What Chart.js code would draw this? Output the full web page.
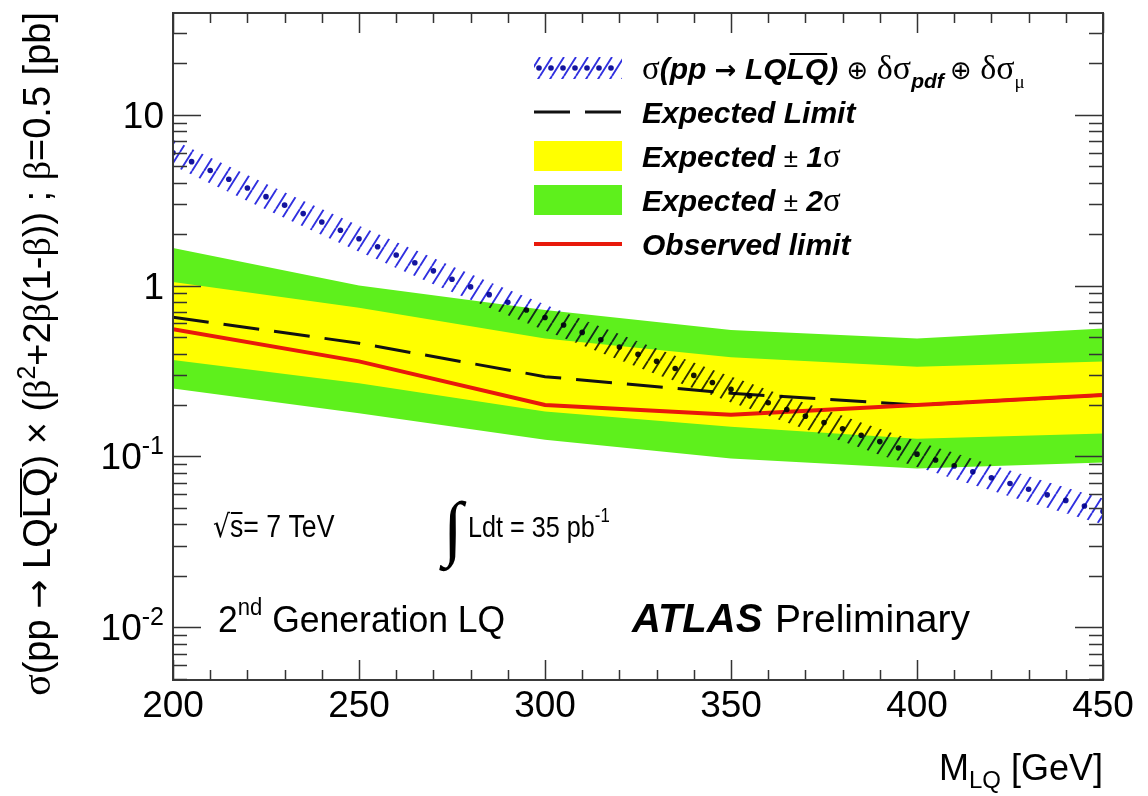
<!DOCTYPE html>
<html>
<head>
<meta charset="utf-8">
<script src="https://cdn.jsdelivr.net/npm/chart.js@4.4.1/dist/chart.umd.min.js"></script>
<style>
  html, body { margin: 0; padding: 0; background: #ffffff; }
  canvas { display: block; }
</style>
</head>
<body>
<canvas id="chart" width="1148" height="796"></canvas>
<script>
// Limit points (LQ mass in GeV, cross section x BR in pb)
const massPoints     = [200, 250, 300, 350, 400, 450];
const observedLimit  = [0.555, 0.36, 0.20, 0.175, 0.20, 0.229];
const expectedLimit  = [0.653, 0.46, 0.293, 0.234, 0.20, 0.229];
const expected1Up    = [1.05, 0.743, 0.49, 0.38, 0.335, 0.359];
const expected1Down  = [0.367, 0.268, 0.183, 0.149, 0.127, 0.136];
const expected2Up    = [1.66, 1.0, 0.72, 0.55, 0.49, 0.56];
const expected2Down  = [0.25, 0.179, 0.125, 0.097, 0.085, 0.092];

// Theory prediction with its pdf + scale uncertainty band
const theoryMass = [200, 205, 210, 215, 220, 225, 230, 235, 240, 245, 250, 255, 260, 265, 270, 275, 280,
  285, 290, 295, 300, 305, 310, 315, 320, 325, 330, 335, 340, 345, 350, 355, 360, 365, 370, 375, 380,
  385, 390, 395, 400, 405, 410, 415, 420, 425, 430, 435, 440, 445, 450];
const theoryXsec = [6.00, 5.32, 4.72, 4.20, 3.73, 3.32, 2.96, 2.64, 2.36, 2.11, 1.88, 1.69, 1.51, 1.36, 1.22,
  1.09, 0.983, 0.885, 0.798, 0.720, 0.650, 0.588, 0.532, 0.482, 0.437, 0.396, 0.360, 0.327, 0.298, 0.271,
  0.247, 0.226, 0.206, 0.188, 0.172, 0.158, 0.145, 0.133, 0.122, 0.112, 0.103, 0.0953, 0.0879, 0.0812,
  0.0750, 0.0693, 0.0642, 0.0595, 0.0552, 0.0512, 0.0476];
const theoryHigh = [7.14, 6.33, 5.62, 5.00, 4.44, 3.95, 3.52, 3.14, 2.81, 2.51, 2.24, 2.01, 1.80, 1.62, 1.45,
  1.30, 1.17, 1.05, 0.950, 0.857, 0.774, 0.700, 0.633, 0.574, 0.520, 0.471, 0.428, 0.389, 0.355, 0.322,
  0.294, 0.269, 0.245, 0.224, 0.205, 0.188, 0.173, 0.158, 0.145, 0.133, 0.123, 0.113, 0.105, 0.0966,
  0.0893, 0.0825, 0.0764, 0.0708, 0.0657, 0.0609, 0.0566];
const theoryLow = [5.04, 4.47, 3.96, 3.53, 3.13, 2.79, 2.49, 2.22, 1.98, 1.77, 1.58, 1.42, 1.27, 1.14, 1.02,
  0.916, 0.826, 0.743, 0.670, 0.605, 0.546, 0.494, 0.447, 0.405, 0.367, 0.333, 0.302, 0.275, 0.250, 0.228,
  0.207, 0.190, 0.173, 0.158, 0.144, 0.133, 0.122, 0.112, 0.102, 0.0941, 0.0865, 0.0801, 0.0738, 0.0682,
  0.0630, 0.0582, 0.0539, 0.0500, 0.0464, 0.0430, 0.0400];

// Axis ticks
const xMajorTicks = [200, 250, 300, 350, 400, 450];
const xTickLabels = ['200', '250', '300', '350', '400', '450'];
const yMajorTicks = [10, 1, 0.1, 0.01];
const yTickLabels = [['10', ''], ['1', ''], ['10', '-1'], ['10', '-2']];

const SANS = '"Liberation Sans", Arial, Helvetica, sans-serif';
const SERIF = '"Liberation Serif", "DejaVu Serif", serif';
const SYM = '"DejaVu Sans", sans-serif';
const f = (size, style, fam) => `${style || ''} ${size}px ${fam || SANS}`;

const GREEN = '#5ef01c';
const YELLOW = '#ffff00';
const RED = '#e8190b';
const HATCH_BLUE = '#3030e0';
const DOT_BLUE = '#14149e';

const canvas = document.getElementById('chart');
const ctx0 = canvas.getContext('2d');

function makeHatch(color) {
  const w = 12, h = 19;
  const c = document.createElement('canvas');
  c.width = w; c.height = h;
  const g = c.getContext('2d');
  g.strokeStyle = color;
  g.lineWidth = 1.9;
  g.beginPath();
  for (const off of [-w, 0, w]) { g.moveTo(off, h); g.lineTo(off + w, 0); }
  g.stroke();
  return ctx0.createPattern(c, 'repeat');
}
const hatch = makeHatch(HATCH_BLUE);

const pts = (xs, ys) => xs.map((x, i) => ({ x, y: ys[i] }));
const NONE = 'rgba(0,0,0,0)';

// Rich text: list of parts {t, font, dy, over, ox}; sx narrows the run horizontally
function richWidth(ctx, parts) {
  let w = 0;
  for (const p of parts) { ctx.font = p.font; w += ctx.measureText(p.t).width; }
  return w;
}
function drawRich(ctx, x, y, parts, align, sx) {
  sx = sx || 1;
  const w = richWidth(ctx, parts) * sx;
  const x0 = align === 'right' ? x - w : align === 'center' ? x - w / 2 : x;
  ctx.save();
  ctx.translate(x0, y);
  ctx.scale(sx, 1);
  ctx.textBaseline = 'alphabetic';
  ctx.textAlign = 'left';
  let cx = 0;
  for (const p of parts) {
    ctx.font = p.font;
    const tw = ctx.measureText(p.t).width;
    ctx.fillStyle = p.color || '#000';
    ctx.fillText(p.t, cx, p.dy || 0);
    if (p.over) ctx.fillRect(cx + (p.ox || 1), (p.dy || 0) - p.over, tw - (p.ox || 1) - 1, 2);
    cx += tw;
  }
  ctx.restore();
  return w;
}

const decorPlugin = {
  id: 'decor',
  beforeDraw(chart) {
    const c = chart.ctx;
    c.save();
    c.fillStyle = '#ffffff';
    c.fillRect(0, 0, chart.width, chart.height);
    c.restore();
  },
  beforeDatasetDraw(chart, args) {
    // theory band and markers are blended onto the limit bands
    if (chart.data.datasets[args.index].label === 'theoryLow') {
      chart.ctx.globalCompositeOperation = 'multiply';
    }
  },
  afterDatasetsDraw(chart) {
    chart.ctx.globalCompositeOperation = 'source-over';
  },
  afterDraw(chart) {
    const c = chart.ctx;
    const a = chart.chartArea;
    const xs = chart.scales.x, ys = chart.scales.y;
    c.save();

    // frame
    c.strokeStyle = '#3a3a3a';
    c.lineWidth = 2;
    c.strokeRect(a.left, a.top, a.right - a.left, a.bottom - a.top);

    // x ticks (both sides)
    c.lineWidth = 1.5;
    c.strokeStyle = '#333';
    c.beginPath();
    for (let v = 200; v <= 450; v += 10) {
      const px = Math.round(xs.getPixelForValue(v)) + 0.5;
      const len = (v % 50 === 0) ? 20 : 10;
      c.moveTo(px, a.bottom); c.lineTo(px, a.bottom - len);
      c.moveTo(px, a.top); c.lineTo(px, a.top + len);
    }
    // y ticks (both sides)
    const yMinor = [];
    for (const dec of [0.001, 0.01, 0.1, 1, 10]) {
      for (let k = 1; k <= 9; k++) yMinor.push(+(k * dec).toPrecision(3));
    }
    for (const v of yMinor) {
      if (v < ys.min || v > ys.max) continue;
      const py = Math.round(ys.getPixelForValue(v)) + 0.5;
      const major = yMajorTicks.includes(v);
      const len = major ? 28 : 14;
      c.moveTo(a.left, py); c.lineTo(a.left + len, py);
      c.moveTo(a.right, py); c.lineTo(a.right - len, py);
    }
    c.stroke();

    // tick labels
    xMajorTicks.forEach((v, i) => {
      drawRich(c, xs.getPixelForValue(v), 717, [{ t: xTickLabels[i], font: f(37) }], 'center');
    });
    yMajorTicks.forEach((v, i) => {
      const py = ys.getPixelForValue(v);
      const [base, sup] = yTickLabels[i];
      const parts = [{ t: base, font: f(37) }];
      if (sup) parts.push({ t: sup, font: f(25), dy: -15 });
      drawRich(c, 164, py + 13, parts, 'right');
    });

    // axis titles
    drawRich(c, 1103, 780, [
      { t: 'M', font: f(36) },
      { t: 'LQ', font: f(24), dy: 8 },
      { t: ' [GeV]', font: f(36) }
    ], 'right');

    c.save();
    c.translate(50, 12);
    c.rotate(-Math.PI / 2);
    drawRich(c, 0, 0, [
      { t: 'σ', font: f(40, '', SERIF) },
      { t: '(pp ', font: f(38) },
      { t: '→', font: f(35, '', SYM) },
      { t: ' LQ', font: f(38) },
      { t: 'LQ', font: f(38), over: 30 },
      { t: ') × (', font: f(38) },
      { t: 'β', font: f(38, '', SERIF) },
      { t: '2', font: f(25), dy: -15 },
      { t: '+2', font: f(38) },
      { t: 'β', font: f(38, '', SERIF) },
      { t: '(1-', font: f(38) },
      { t: 'β', font: f(38, '', SERIF) },
      { t: ')) ; ', font: f(38) },
      { t: 'β', font: f(38, '', SERIF) },
      { t: '=0.5 [pb]', font: f(38) }
    ], 'right');
    c.restore();

    // legend
    const lx0 = 534, lx1 = 622, tx = 642;
    const rows = [68, 112, 156, 200, 244];
    c.save();
    c.fillStyle = hatch;
    c.fillRect(lx0, rows[0] - 11, lx1 - lx0, 22);
    c.fillStyle = DOT_BLUE;
    for (let px = lx0 + 5; px < lx1; px += 12) {
      c.beginPath(); c.arc(px, rows[0], 2.8, 0, Math.PI * 2); c.fill();
    }
    c.restore();
    c.save();
    c.strokeStyle = '#111'; c.lineWidth = 3; c.setLineDash([36, 15]);
    c.beginPath(); c.moveTo(lx0, rows[1]); c.lineTo(lx1, rows[1]); c.stroke();
    c.restore();
    c.fillStyle = YELLOW; c.fillRect(lx0, rows[2] - 15, lx1 - lx0, 30);
    c.fillStyle = GREEN; c.fillRect(lx0, rows[3] - 15, lx1 - lx0, 30);
    c.save();
    c.strokeStyle = RED; c.lineWidth = 4;
    c.beginPath(); c.moveTo(lx0, rows[4]); c.lineTo(lx1, rows[4]); c.stroke();
    c.restore();

    const BI = (s) => f(s, 'italic bold');
    const lb = 11;
    drawRich(c, tx, rows[0] + lb, [
      { t: 'σ', font: f(33, '', SERIF) },
      { t: '(pp ', font: BI(30) },
      { t: '→', font: f(26, 'bold', SYM) },
      { t: ' LQ', font: BI(30) },
      { t: 'LQ', font: BI(30), over: 26, ox: 3 },
      { t: ') ', font: BI(30) },
      { t: '⊕', font: f(26, '', SYM) },
      { t: ' δσ', font: f(34, '', SERIF) },
      { t: 'pdf', font: BI(21), dy: 9 },
      { t: ' ', font: f(22) },
      { t: '⊕', font: f(26, '', SYM) },
      { t: ' δσ', font: f(34, '', SERIF) },
      { t: 'μ', font: f(19, '', SERIF), dy: 9 }
    ], 'left');
    drawRich(c, tx, rows[1] + lb, [{ t: 'Expected Limit', font: BI(30) }], 'left');
    drawRich(c, tx, rows[2] + lb, [
      { t: 'Expected ', font: BI(30) },
      { t: '±', font: f(26) },
      { t: ' 1', font: BI(30) },
      { t: 'σ', font: f(33, '', SERIF) }
    ], 'left');
    drawRich(c, tx, rows[3] + lb, [
      { t: 'Expected ', font: BI(30) },
      { t: '±', font: f(26) },
      { t: ' 2', font: BI(30) },
      { t: 'σ', font: f(33, '', SERIF) }
    ], 'left');
    drawRich(c, tx, rows[4] + lb, [{ t: 'Observed limit', font: BI(30) }], 'left');

    // annotations
    drawRich(c, 213, 537, [
      { t: '√', font: f(31, '', SYM) },
      { t: 's', font: f(31), over: 25, ox: 0 },
      { t: '= 7 TeV', font: f(31) }
    ], 'left', 0.86);
    drawRich(c, 443, 552, [{ t: '∫', font: f(72, '', SERIF) }], 'left');
    drawRich(c, 468, 537, [
      { t: 'Ldt = 35 pb', font: f(30) },
      { t: '-1', font: f(20), dy: -15 }
    ], 'left', 0.84);
    drawRich(c, 218, 632, [
      { t: '2', font: f(37) },
      { t: 'nd', font: f(23), dy: -17 },
      { t: ' Generation LQ', font: f(37) }
    ], 'left', 0.96);
    drawRich(c, 632, 632, [{ t: 'ATLAS', font: f(40, 'italic bold') }], 'left');
    drawRich(c, 775, 632, [{ t: 'Preliminary', font: f(39) }], 'left');

    c.restore();
  }
};

new Chart(canvas, {
  type: 'line',
  data: {
    datasets: [
      { label: 'theoryCentral', data: pts(theoryMass, theoryXsec), showLine: false,
        pointRadius: 2.8, pointBackgroundColor: DOT_BLUE, pointBorderWidth: 0, order: 0 },
      { label: 'theoryHigh', data: pts(theoryMass, theoryHigh), borderWidth: 0, borderColor: NONE,
        pointRadius: 0, fill: '+1', backgroundColor: hatch, order: 1 },
      { label: 'theoryLow', data: pts(theoryMass, theoryLow), borderWidth: 0, borderColor: NONE,
        pointRadius: 0, fill: false, order: 2 },
      { label: 'observed', data: pts(massPoints, observedLimit), borderColor: RED, borderWidth: 4,
        pointRadius: 0, fill: false, order: 3 },
      { label: 'expected', data: pts(massPoints, expectedLimit), borderColor: '#111', borderWidth: 3,
        borderDash: [36, 15], pointRadius: 0, fill: false, order: 4 },
      { label: 'exp1Up', data: pts(massPoints, expected1Up), borderWidth: 0, borderColor: NONE,
        pointRadius: 0, fill: '+1', backgroundColor: YELLOW, order: 5 },
      { label: 'exp1Down', data: pts(massPoints, expected1Down), borderWidth: 0, borderColor: NONE,
        pointRadius: 0, fill: false, order: 6 },
      { label: 'exp2Up', data: pts(massPoints, expected2Up), borderWidth: 0, borderColor: NONE,
        pointRadius: 0, fill: '+1', backgroundColor: GREEN, order: 7 },
      { label: 'exp2Down', data: pts(massPoints, expected2Down), borderWidth: 0, borderColor: NONE,
        pointRadius: 0, fill: false, order: 8 }
    ]
  },
  options: {
    responsive: false,
    animation: false,
    devicePixelRatio: 1,
    layout: { padding: { top: 13, right: 45, left: 0, bottom: 0 } },
    plugins: { legend: { display: false }, tooltip: { enabled: false } },
    scales: {
      x: {
        type: 'linear', min: 200, max: 450,
        ticks: { display: false }, grid: { display: false }, border: { display: false },
        afterFit: (s) => { s.height = 116; }
      },
      y: {
        type: 'logarithmic', min: 0.0049, max: 39.5,
        ticks: { display: false }, grid: { display: false }, border: { display: false },
        afterFit: (s) => { s.width = 173; }
      }
    }
  },
  plugins: [decorPlugin]
});
</script>
</body>
</html>
